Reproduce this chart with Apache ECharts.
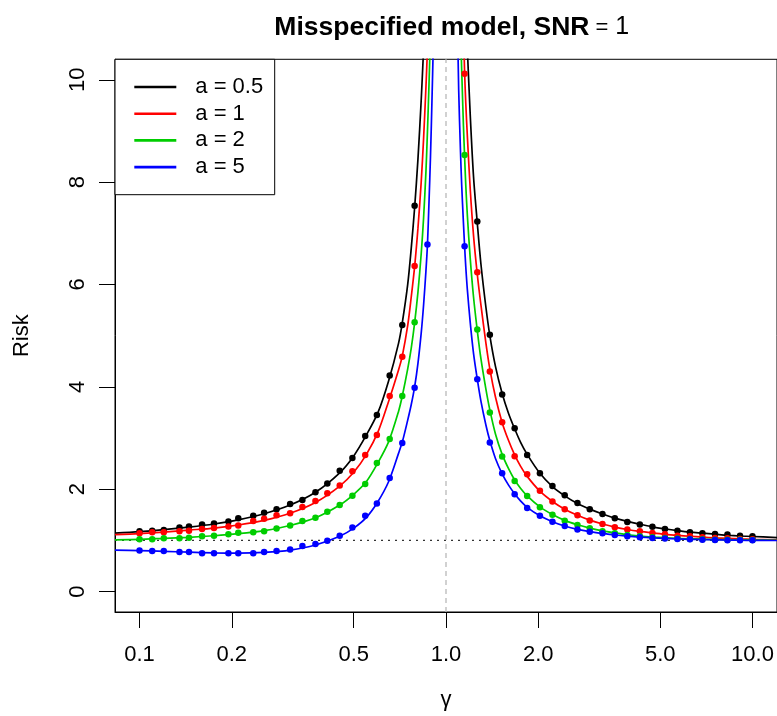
<!DOCTYPE html>
<html>
<head>
<meta charset="utf-8">
<script src="https://cdn.jsdelivr.net/npm/echarts@6/dist/echarts.min.js"></script>
<style>
html,body{margin:0;padding:0;background:#fff;overflow:hidden;}
#chart{width:777px;height:716px;}
</style>
</head>
<body>
<div id="chart"></div>
<script>
// ---- data ----
const seriesNames = ['a = 0.5', 'a = 1', 'a = 2', 'a = 5'];
const seriesColors = ['#000000', '#FF0000', '#00CD00', '#0000FF'];

const xTickValues = [0.1, 0.2, 0.5, 1, 2, 5, 10];
const xTickLabels = ['0.1', '0.2', '0.5', '1.0', '2.0', '5.0', '10.0'];
const yTickValues = [0, 2, 4, 6, 8, 10];

// simulation points (gamma)
const gammaSim = [0.10, 0.11, 0.12, 0.135, 0.145, 0.16, 0.175, 0.195, 0.21, 0.235, 0.255, 0.28,
  0.31, 0.34, 0.375, 0.41, 0.45, 0.495, 0.545, 0.595, 0.655, 0.72, 0.79, 0.87,
  1.15, 1.265, 1.39, 1.525, 1.675, 1.84, 2.025, 2.225, 2.44, 2.685, 2.945, 3.24,
  3.555, 3.905, 4.29, 4.715, 5.18, 5.69, 6.25, 6.865, 7.545, 8.285, 9.105, 10.0];

const simA05 = [1.18, 1.19, 1.20, 1.25, 1.27, 1.31, 1.33, 1.37, 1.43, 1.48, 1.54, 1.61,
  1.71, 1.79, 1.94, 2.11, 2.36, 2.61, 3.04, 3.45, 4.22, 5.21, 7.54, null,
  null, 7.23, 5.02, 3.85, 3.19, 2.67, 2.31, 2.06, 1.88, 1.73, 1.61, 1.515,
  1.43, 1.36, 1.31, 1.267, 1.222, 1.19, 1.157, 1.138, 1.125, 1.112, 1.092, 1.079];
const simA1 = [1.14, 1.16, 1.16, 1.18, 1.19, 1.22, 1.24, 1.27, 1.29, 1.38, 1.42, 1.49,
  1.53, 1.65, 1.77, 1.92, 2.07, 2.35, 2.67, 3.06, 3.82, 4.59, 6.36, null,
  10.12, 6.24, 4.30, 3.31, 2.645, 2.29, 1.97, 1.76, 1.61, 1.49, 1.39, 1.32,
  1.258, 1.212, 1.18, 1.144, 1.118, 1.092, 1.079, 1.06, 1.047, 1.04, 1.027, 1.021];
const simA2 = [1.02, 1.02, 1.04, 1.04, 1.05, 1.08, 1.09, 1.12, 1.15, 1.16, 1.18, 1.23,
  1.29, 1.38, 1.44, 1.56, 1.69, 1.87, 2.10, 2.51, 2.98, 3.82, 5.26, null,
  8.53, 5.12, 3.50, 2.64, 2.16, 1.865, 1.645, 1.50, 1.384, 1.30, 1.235, 1.177,
  1.138, 1.105, 1.079, 1.06, 1.047, 1.034, 1.027, 1.021, 1.014, 1.014, 1.014, 1.008];
const simA5 = [0.80, 0.79, 0.79, 0.77, 0.77, 0.75, 0.75, 0.75, 0.75, 0.75, 0.77, 0.79,
  0.82, 0.89, 0.93, 0.99, 1.09, 1.25, 1.48, 1.72, 2.22, 2.90, 3.98, 6.78,
  6.745, 4.15, 2.91, 2.31, 1.90, 1.63, 1.48, 1.365, 1.28, 1.21, 1.17, 1.138,
  1.105, 1.079, 1.06, 1.047, 1.034, 1.027, 1.021, 1.014, 1.008, 1.002, 1.002, 1.002];

// theoretical curves, left branch (gamma < 1)
const gammaCurveLeft = [0.083176, 0.1, 0.12, 0.145, 0.175, 0.21, 0.255, 0.31, 0.375, 0.45, 0.5, 0.55,
  0.6, 0.65, 0.7, 0.72, 0.75, 0.77, 0.79, 0.81, 0.83, 0.845, 0.86, 0.87, 0.88, 0.89, 0.9, 0.91];
const curveLeftA05 = [1.14, 1.17, 1.21, 1.26, 1.32, 1.40, 1.52, 1.69, 1.94, 2.32, 2.65, 3.06,
  3.50, 4.12, 4.85, 5.25, 6.0, 6.7, 7.5, 8.45, 9.6, 10.6, null, null, null, null, null, null];
const curveLeftA1 = [1.11, 1.13, 1.16, 1.20, 1.24, 1.30, 1.39, 1.53, 1.74, 2.06, 2.33, 2.68,
  3.12, 3.72, 4.33, 4.60, 5.20, 5.75, 6.35, 7.10, 8.00, 8.85, 9.85, 10.6, null, null, null, null];
const curveLeftA2 = [1.01, 1.02, 1.04, 1.06, 1.09, 1.13, 1.19, 1.29, 1.44, 1.69, 1.90, 2.15,
  2.52, 2.93, 3.52, 3.82, 4.35, 4.75, 5.25, 5.85, 6.6, 7.3, 8.2, 9.0, 9.9, 10.9, null, null];
const curveLeftA5 = [0.81, 0.80, 0.785, 0.77, 0.755, 0.75, 0.765, 0.81, 0.91, 1.08, 1.24, 1.45,
  1.76, 2.15, 2.70, 2.92, 3.35, 3.65, 4.0, 4.46, 5.05, 5.6, 6.26, 6.78, 7.6, 8.5, 9.6, 10.8];

// theoretical curves, right branch (gamma > 1)
const gammaCurveRight = [1.09, 1.1, 1.115, 1.125, 1.14, 1.15, 1.16, 1.174, 1.2, 1.23, 1.265, 1.3,
  1.35, 1.39, 1.45, 1.525, 1.6, 1.675, 1.75, 1.84, 2.025, 2.225, 2.44, 2.685, 2.945, 3.24,
  3.555, 3.905, 4.29, 4.715, 5.18, 5.69, 6.25, 6.865, 7.545, 8.285, 9.105, 10, 12.0226];
const curveRightA05 = [null, null, null, null, null, null, 11.4, 10.6, 9.3, 8.1, 7.2, 6.4,
  5.55, 5.0, 4.4, 3.87, 3.48, 3.18, 2.92, 2.68, 2.31, 2.05, 1.87, 1.72, 1.61, 1.515,
  1.435, 1.37, 1.315, 1.265, 1.225, 1.19, 1.16, 1.14, 1.12, 1.10, 1.085, 1.075, 1.055];
const curveRightA1 = [null, null, null, null, 11.0, 10.15, 9.55, 8.9, 7.85, 6.95, 6.2, 5.6,
  4.85, 4.35, 3.8, 3.3, 2.95, 2.67, 2.45, 2.25, 1.96, 1.76, 1.61, 1.49, 1.395, 1.32,
  1.26, 1.212, 1.175, 1.145, 1.118, 1.097, 1.08, 1.063, 1.05, 1.04, 1.03, 1.022, 1.01];
const curveRightA2 = [null, null, 11.0, 10.2, 9.1, 8.5, 7.95, 7.35, 6.5, 5.75, 5.1, 4.55,
  3.95, 3.55, 3.08, 2.68, 2.4, 2.18, 2.02, 1.87, 1.655, 1.505, 1.39, 1.305, 1.24, 1.185,
  1.145, 1.11, 1.085, 1.066, 1.052, 1.04, 1.031, 1.024, 1.018, 1.013, 1.01, 1.007, 1.002];
const curveRightA5 = [11.2, 9.8, 8.6, 7.95, 7.2, 6.75, 6.35, 5.9, 5.25, 4.65, 4.15, 3.72,
  3.25, 2.95, 2.6, 2.3, 2.08, 1.91, 1.77, 1.645, 1.48, 1.365, 1.28, 1.215, 1.17, 1.135,
  1.105, 1.082, 1.064, 1.05, 1.038, 1.029, 1.021, 1.015, 1.01, 1.006, 1.003, 1.0, 0.997];

const xMin = 0.083176, xMax = 12.0226;
const yMin = -0.4, yMax = 10.4;

// ---- build chart ----
const FONT = '"Liberation Sans", Arial, Helvetica, sans-serif';
const simAll = [simA05, simA1, simA2, simA5];
const leftAll = [curveLeftA05, curveLeftA1, curveLeftA2, curveLeftA5];
const rightAll = [curveRightA05, curveRightA1, curveRightA2, curveRightA5];

function pairs(xs, ys) {
  return xs.map((x, i) => [x, ys[i]]).filter(d => d[1] !== null && d[1] !== undefined);
}

const series = [
  {
    type: 'line', silent: true, symbol: 'none', z: 1,
    data: [[xMin, 1], [xMax, 1]],
    lineStyle: { color: '#333', width: 1.2, type: [2, 5] }
  },
  {
    type: 'line', silent: true, symbol: 'none', z: 1,
    data: [[1, yMin], [1, yMax]],
    lineStyle: { color: '#BEBEBE', width: 1.4, type: [5, 4] }
  }
];

seriesNames.forEach((name, k) => {
  const color = seriesColors[k];
  series.push({
    name, type: 'line', symbol: 'none', smooth: 0.3, clip: true, z: 2,
    data: pairs(gammaCurveLeft, leftAll[k]),
    itemStyle: { color }, lineStyle: { color, width: 1.7 }
  });
  series.push({
    name, type: 'line', symbol: 'none', smooth: 0.3, clip: true, z: 2,
    data: pairs(gammaCurveRight, rightAll[k]),
    itemStyle: { color }, lineStyle: { color, width: 1.7 }
  });
  series.push({
    name, type: 'scatter', symbol: 'circle', symbolSize: 6.5, clip: true, z: 3,
    data: pairs(gammaSim, simAll[k]),
    itemStyle: { color, opacity: 1 }
  });
});

const chart = echarts.init(document.getElementById('chart'), null, { renderer: 'canvas', width: 777, height: 716 });
chart.setOption({
  animation: false,
  backgroundColor: '#ffffff',
  textStyle: { fontFamily: FONT },
  title: {
    text: '{b|Misspecified model, SNR}{r| =}{t| 1}',
    left: 446.8, top: 9, textAlign: 'center',
    textStyle: {
      rich: {
        b: { fontSize: 26.5, fontWeight: 'bold', color: '#000', fontFamily: FONT, lineHeight: 27 },
        r: { fontSize: 22, fontWeight: 'normal', color: '#000', fontFamily: FONT, lineHeight: 27 },
        t: { fontSize: 25, fontWeight: 'normal', color: '#000', fontFamily: FONT, lineHeight: 27 }
      }
    }
  },
  legend: {
    data: seriesNames.map(n => ({ name: n, icon: 'rect' })),
    orient: 'vertical', left: 115, top: 59.3,
    itemWidth: 42, itemHeight: 2.6, itemGap: 4.7,
    padding: [16.7, 11.5, 16.6, 19.3],
    borderColor: '#000', borderWidth: 1, backgroundColor: '#fff',
    selectedMode: false,
    textStyle: { fontSize: 22, color: '#000', fontFamily: FONT, lineHeight: 22, padding: [0, 0, 0, 14] }
  },
  grid: {
    left: 115, top: 59.3, width: 663.6, height: 554,
    show: true, borderColor: '#000', borderWidth: 1, backgroundColor: 'transparent',
    containLabel: false
  },
  xAxis: {
    type: 'log', logBase: 10, min: xMin, max: xMax,
    axisLine: { show: true, onZero: false, lineStyle: { color: '#000', width: 1 } },
    axisTick: { show: true, length: 16, lineStyle: { color: '#000', width: 1 }, customValues: xTickValues },
    axisLabel: {
      customValues: xTickValues, fontSize: 22, color: '#000', fontFamily: FONT, margin: 32,
      formatter: function (v) {
        for (let i = 0; i < xTickValues.length; i++) {
          if (Math.abs(Math.log10(v) - Math.log10(xTickValues[i])) < 1e-6) return xTickLabels[i];
        }
        return '';
      }
    },
    splitLine: { show: false }, minorTick: { show: false },
    name: 'γ', nameLocation: 'middle', nameGap: 77,
    nameTextStyle: { fontSize: 22, color: '#000', fontFamily: FONT }
  },
  yAxis: {
    type: 'value', min: yMin, max: yMax,
    axisLine: { show: true, onZero: false, lineStyle: { color: '#000', width: 1 } },
    axisTick: { show: true, length: 16, lineStyle: { color: '#000', width: 1 }, customValues: yTickValues },
    axisLabel: { customValues: yTickValues, rotate: 90, fontSize: 22, color: '#000', fontFamily: FONT, margin: 26 },
    splitLine: { show: false },
    name: 'Risk', nameLocation: 'middle', nameGap: 82, nameRotate: 90,
    nameTextStyle: { fontSize: 22, color: '#000', fontFamily: FONT }
  },
  series
});
</script>
</body>
</html>
